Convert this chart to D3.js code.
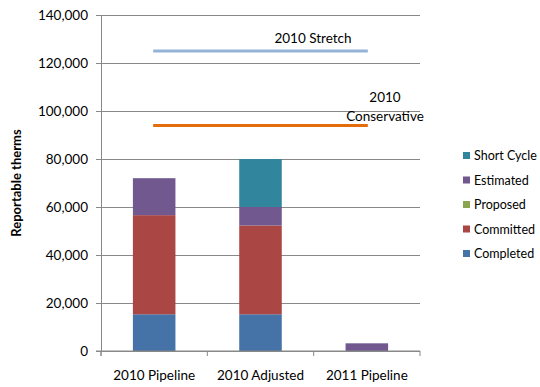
<!DOCTYPE html>
<html><head><meta charset="utf-8">
<script src="https://cdn.jsdelivr.net/npm/d3@7"></script>
<style>body{margin:0;background:#fff}svg{display:block}text{font-family:Lato,"Open Sans",sans-serif;fill:#000}</style>
</head><body><svg id="c" width="540" height="387"></svg>
<script>
const categories = ["2010 Pipeline", "2010 Adjusted", "2011 Pipeline"];
const seriesNames = ["Completed", "Committed", "Proposed", "Estimated", "Short Cycle"];
const completed = [15300, 15300, 0];
const committed = [41300, 37000, 0];
const proposed = [0, 0, 0];
const estimated = [15400, 7700, 3200];
const shortCycle = [0, 20000, 0];
const colors = ["#4572A7", "#AA4643", "#89A54E", "#71588F", "#31859C"];
const yTicks = [0, 20000, 40000, 60000, 80000, 100000, 120000, 140000];
const targetNames = ["2010 Stretch", "2010 Conservative"];
const targetValues = [125000, 94000];
const targetColors = ["#95B3D7", "#E46C0A"];

const svg = d3.select("#c");
const L = 101, R = 420, T = 15, B = 351;
const x = d3.scaleBand().domain(categories).range([L, R]).paddingInner(0.6).paddingOuter(0.3);
const xb = d3.scaleBand().domain(categories).range([L, R]);
const y = d3.scaleLinear().domain([0, 140000]).range([B, T]);

// gridlines
svg.append("g").selectAll("line").data(yTicks).join("line")
  .attr("x1", L).attr("x2", R).attr("y1", d => y(d)).attr("y2", d => y(d))
  .attr("stroke", "#888").attr("stroke-width", 1).attr("shape-rendering", "crispEdges");

// stacked bars
const table = categories.map((c, i) => ({cat: c, Completed: completed[i], Committed: committed[i], Proposed: proposed[i], Estimated: estimated[i], "Short Cycle": shortCycle[i]}));
const stack = d3.stack().keys(seriesNames)(table);
svg.append("g").selectAll("g").data(stack).join("g")
  .attr("fill", (d, i) => colors[i])
  .selectAll("rect").data(d => d).join("rect")
  .attr("x", d => x(d.data.cat)).attr("width", x.bandwidth())
  .attr("y", d => y(d[1])).attr("height", d => Math.max(0, y(d[0]) - y(d[1])));

// y axis
const ya = svg.append("g").attr("transform", `translate(${L},0)`)
  .call(d3.axisLeft(y).tickValues(yTicks).tickFormat(d3.format(",")).tickSize(5).tickPadding(8));
ya.select(".domain").attr("stroke", "#888");
ya.selectAll(".tick line").attr("stroke", "#888");
ya.selectAll("text").attr("font-size", 13.5).attr("font-family", "Lato, sans-serif");
ya.append("line").attr("x1", 0).attr("x2", 0).attr("y1", B).attr("y2", B + 5).attr("stroke", "#888");

// x axis
const xa = svg.append("g").attr("transform", `translate(0,${B})`);
xa.append("line").attr("x1", L - 5).attr("x2", R).attr("y1", 0).attr("y2", 0).attr("stroke", "#888");
xa.selectAll(".tk").data(categories.concat(["_end"])).join("line")
  .attr("x1", d => d === "_end" ? R : xb(d)).attr("x2", d => d === "_end" ? R : xb(d))
  .attr("y1", 0).attr("y2", 5).attr("stroke", "#888");
xa.selectAll("text").data(categories).join("text")
  .attr("x", d => xb(d) + xb.bandwidth() / 2).attr("y", 29)
  .attr("text-anchor", "middle").attr("font-size", 13.5).text(d => d);

// target lines
const lx1 = xb(categories[0]) + xb.bandwidth() / 2 - 1;
const lx2 = xb(categories[2]) + xb.bandwidth() / 2 + 1;
svg.append("g").selectAll("line").data(targetValues).join("line")
  .attr("x1", lx1).attr("x2", lx2).attr("y1", d => y(d)).attr("y2", d => y(d))
  .attr("stroke", (d, i) => targetColors[i]).attr("stroke-width", 3);
svg.append("text").attr("x", 313).attr("y", y(targetValues[0]) - 8)
  .attr("text-anchor", "middle").attr("font-size", 13.5).text(targetNames[0]);
const cons = svg.append("text").attr("text-anchor", "middle").attr("font-size", 13.5);
cons.append("tspan").attr("x", 385).attr("y", y(targetValues[1]) - 23).text("2010");
cons.append("tspan").attr("x", 385).attr("y", y(targetValues[1]) - 4).text("Conservative");

// y title
svg.append("text").attr("transform", `translate(21,${(T + B) / 2}) rotate(-90)`)
  .attr("text-anchor", "middle").attr("font-size", 13).attr("font-weight", "bold").text("Reportable therms");

// legend
const legendOrder = seriesNames.slice().reverse();
const lg = svg.append("g").selectAll("g").data(legendOrder).join("g")
  .attr("transform", (d, i) => `translate(463,${156 + i * 24.5})`);
lg.append("rect").attr("x", 0).attr("y", -4).attr("width", 7).attr("height", 7)
  .attr("fill", d => colors[seriesNames.indexOf(d)]);
lg.append("text").attr("x", 11).attr("y", 4).attr("font-size", 12.5).text(d => d);
</script></body></html>
